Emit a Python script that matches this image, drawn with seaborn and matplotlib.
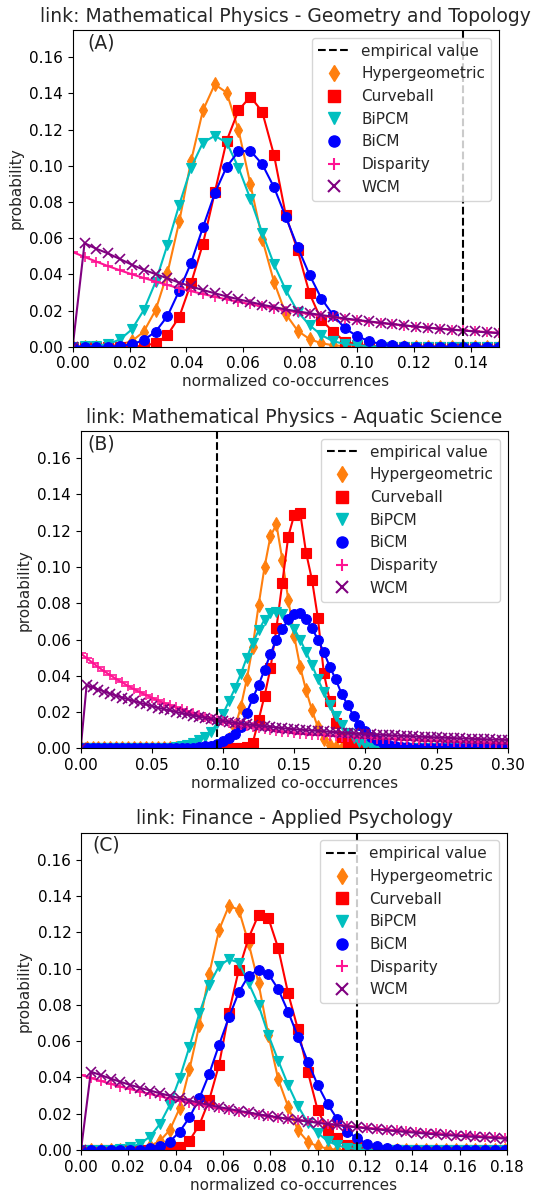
import numpy as np
import pandas as pd
import matplotlib
matplotlib.use("Agg")
import matplotlib.pyplot as plt
from matplotlib.lines import Line2D
import seaborn as sns

# Width of one bin of normalized co-occurrence
BIN = 1.0 / 240.0

# ---------------- (A) Mathematical Physics - Geometry and Topology ----------------
A_hyper = [0, 0, 0, 0.0004, 0.0012, 0.0031, 0.0083, 0.0202, 0.0407, 0.0692,
           0.1028, 0.1306, 0.1450, 0.1404, 0.1198, 0.0899, 0.0596, 0.0358, 0.0180, 0.0088,
           0.0042, 0.0019, 0.0008, 0.0003, 0, 0, 0, 0, 0, 0,
           0, 0, 0, 0, 0, 0, 0]
A_curve = [0, 0, 0, 0, 0, 0, 0.0005, 0.0019, 0.0064, 0.0165,
           0.0352, 0.0569, 0.0853, 0.1138, 0.1306, 0.1382, 0.1299, 0.1059, 0.0725, 0.0532,
           0.0294, 0.0147, 0.0083, 0.0028, 0.0012, 0.0005, 0, 0, 0, 0,
           0, 0, 0, 0, 0, 0, 0]
A_bipcm = [0, 0.0002, 0.0005, 0.0015, 0.0040, 0.0096, 0.0202, 0.0358, 0.0563, 0.0785,
           0.0990, 0.1128, 0.1165, 0.1128, 0.0990, 0.0817, 0.0630, 0.0455, 0.0312, 0.0193,
           0.0119, 0.0064, 0.0030, 0.0015, 0.0008, 0.0003, 0, 0, 0, 0,
           0, 0, 0, 0, 0, 0, 0]
A_bicm = [0, 0, 0, 0, 0.0004, 0.0013, 0.0037, 0.0083, 0.0169, 0.0310,
          0.0464, 0.0660, 0.0848, 0.0994, 0.1079, 0.1083, 0.1009, 0.0881, 0.0716, 0.0550,
          0.0397, 0.0266, 0.0174, 0.0101, 0.0059, 0.0031, 0.0015, 0.0007, 0.0003, 0,
          0, 0, 0, 0, 0, 0, 0]
A_disp = [0.0523, 0.0496, 0.0470, 0.0445, 0.0422, 0.0400, 0.0380, 0.0360, 0.0341, 0.0323,
          0.0307, 0.0291, 0.0276, 0.0261, 0.0248, 0.0235, 0.0223, 0.0211, 0.0200, 0.0190,
          0.0180, 0.0171, 0.0162, 0.0153, 0.0145, 0.0138, 0.0131, 0.0124, 0.0117, 0.0111,
          0.0106, 0.0100, 0.0095, 0.0090, 0.0085, 0.0081, 0.0077]
A_wcm = [0, 0.0572, 0.0541, 0.0515, 0.0484, 0.0453, 0.0425, 0.0401, 0.0378, 0.0354,
         0.0333, 0.0313, 0.0295, 0.0278, 0.0262, 0.0247, 0.0232, 0.0219, 0.0206, 0.0195,
         0.0185, 0.0175, 0.0165, 0.0156, 0.0148, 0.0140, 0.0132, 0.0125, 0.0118, 0.0111,
         0.0105, 0.0099, 0.0094, 0.0089, 0.0084, 0.0079, 0.0075]
A_emp = 0.1375

# ---------------- (B) Mathematical Physics - Aquatic Science ----------------
B_hyper = [0] * 24 + [0.0015, 0.0050, 0.0110, 0.0230, 0.0380, 0.0560, 0.0790, 0.1000,
                      0.1170, 0.1235, 0.1040, 0.0820, 0.0620, 0.0450, 0.0320, 0.0210,
                      0.0115, 0.0050, 0.0020, 0.0008] + [0] * 29
B_curve = [0] * 28 + [0.0008, 0.0028, 0.0156, 0.0290, 0.0441, 0.0662, 0.0914, 0.1168,
                      0.1287, 0.1300, 0.1079, 0.0929, 0.0717, 0.0414, 0.0261, 0.0138,
                      0.0060, 0.0028, 0.0012, 0.0005] + [0] * 25
B_bipcm = [0] * 16 + [0.0007, 0.0012, 0.0020, 0.0030, 0.0045, 0.0065, 0.0090, 0.0140,
                      0.0190, 0.0260, 0.0330, 0.0410, 0.0500, 0.0580, 0.0650, 0.0710,
                      0.0745, 0.0752, 0.0740, 0.0710, 0.0660, 0.0600, 0.0530, 0.0460,
                      0.0380, 0.0310, 0.0240, 0.0180, 0.0130, 0.0085, 0.0055, 0.0033,
                      0.0020, 0.0012, 0.0007, 0.0003] + [0] * 21
B_bicm = [0] * 20 + [0.0006, 0.0010, 0.0015, 0.0025, 0.0038, 0.0055, 0.0080, 0.0119,
                     0.0196, 0.0275, 0.0350, 0.0433, 0.0520, 0.0600, 0.0656, 0.0711,
                     0.0739, 0.0744, 0.0711, 0.0662, 0.0600, 0.0530, 0.0450, 0.0380,
                     0.0300, 0.0240, 0.0180, 0.0130, 0.0095, 0.0065, 0.0045, 0.0030,
                     0.0020, 0.0013, 0.0008, 0.0005, 0.0003] + [0] * 16
B_disp = [0.0524, 0.0497, 0.0472, 0.0447, 0.0424, 0.0403, 0.0382, 0.0363, 0.0344, 0.0326,
          0.0310, 0.0294, 0.0279, 0.0264, 0.0251, 0.0238, 0.0226, 0.0214, 0.0203, 0.0193,
          0.0183, 0.0173, 0.0164, 0.0156, 0.0149, 0.0142, 0.0135, 0.0129, 0.0123, 0.0117,
          0.0111, 0.0106, 0.0101, 0.0096, 0.0092, 0.0088, 0.0083, 0.0081, 0.0078, 0.0076,
          0.0074, 0.0072, 0.0069, 0.0067, 0.0065, 0.0063, 0.0061, 0.0059, 0.0058, 0.0056,
          0.0054, 0.0053, 0.0051, 0.0050, 0.0048, 0.0047, 0.0045, 0.0044, 0.0043, 0.0041,
          0.0040, 0.0039, 0.0038, 0.0037, 0.0035, 0.0034, 0.0033, 0.0032, 0.0031, 0.0030,
          0.0030, 0.0029, 0.0028]
B_wcm = [0, 0.0349, 0.0336, 0.0324, 0.0313, 0.0301, 0.0290, 0.0280, 0.0270, 0.0260,
         0.0251, 0.0242, 0.0233, 0.0224, 0.0216, 0.0209, 0.0201, 0.0194, 0.0187, 0.0180,
         0.0173, 0.0167, 0.0161, 0.0155, 0.0150, 0.0146, 0.0141, 0.0137, 0.0133, 0.0129,
         0.0125, 0.0121, 0.0118, 0.0114, 0.0111, 0.0108, 0.0105, 0.0103, 0.0100, 0.0098,
         0.0096, 0.0094, 0.0091, 0.0089, 0.0087, 0.0085, 0.0083, 0.0081, 0.0079, 0.0078,
         0.0076, 0.0074, 0.0072, 0.0071, 0.0069, 0.0068, 0.0066, 0.0064, 0.0063, 0.0062,
         0.0060, 0.0059, 0.0057, 0.0056, 0.0055, 0.0054, 0.0052, 0.0051, 0.0050, 0.0049,
         0.0048, 0.0047, 0.0046]
B_emp = 0.0958

# ---------------- (C) Finance - Applied Psychology ----------------
C_hyper = [0, 0, 0, 0, 0, 0, 0.0008, 0.0022, 0.0050, 0.0110,
           0.0230, 0.0445, 0.0690, 0.0970, 0.1214, 0.1347, 0.1325, 0.1140, 0.0920, 0.0635,
           0.0390, 0.0239, 0.0110, 0.0045, 0.0020, 0.0008] + [0] * 19
C_curve = [0, 0, 0, 0, 0, 0, 0, 0, 0, 0.0005,
           0.0015, 0.0052, 0.0138, 0.0276, 0.0470, 0.0758, 0.0993, 0.1170, 0.1297, 0.1279,
           0.1113, 0.0865, 0.0666, 0.0432, 0.0220, 0.0110, 0.0064, 0.0030, 0.0015, 0.0007] + [0] * 15
C_bipcm = [0, 0, 0, 0, 0.0007, 0.0015, 0.0035, 0.0074, 0.0143, 0.0248,
           0.0396, 0.0570, 0.0754, 0.0910, 0.1015, 0.1052, 0.1034, 0.0920, 0.0800, 0.0635,
           0.0493, 0.0359, 0.0243, 0.0150, 0.0094, 0.0050, 0.0025, 0.0012, 0.0005] + [0] * 16
C_bicm = [0, 0, 0, 0, 0, 0, 0, 0.0010, 0.0020, 0.0046,
          0.0101, 0.0180, 0.0285, 0.0420, 0.0580, 0.0732, 0.0870, 0.0962, 0.0993, 0.0971,
          0.0887, 0.0763, 0.0625, 0.0487, 0.0359, 0.0254, 0.0169, 0.0101, 0.0064, 0.0035,
          0.0020, 0.0010, 0.0005] + [0] * 12
C_disp = [0.0414, 0.0397, 0.0381, 0.0365, 0.0350, 0.0336, 0.0322, 0.0309, 0.0296, 0.0284,
          0.0272, 0.0261, 0.0250, 0.0240, 0.0230, 0.0221, 0.0212, 0.0203, 0.0195, 0.0187,
          0.0179, 0.0172, 0.0165, 0.0158, 0.0152, 0.0145, 0.0139, 0.0134, 0.0128, 0.0123,
          0.0118, 0.0113, 0.0108, 0.0104, 0.0100, 0.0096, 0.0092, 0.0088, 0.0084, 0.0081,
          0.0078, 0.0074, 0.0071, 0.0068, 0.0065]
C_wcm = [0, 0.0432, 0.0413, 0.0394, 0.0376, 0.0359, 0.0343, 0.0328, 0.0313, 0.0299,
         0.0286, 0.0273, 0.0260, 0.0249, 0.0237, 0.0227, 0.0216, 0.0207, 0.0197, 0.0188,
         0.0180, 0.0172, 0.0164, 0.0157, 0.0150, 0.0143, 0.0137, 0.0130, 0.0125, 0.0119,
         0.0114, 0.0108, 0.0104, 0.0099, 0.0095, 0.0090, 0.0086, 0.0082, 0.0079, 0.0075,
         0.0072, 0.0069, 0.0066, 0.0063, 0.0060]
C_emp = 0.1167

MODELS = ["Hypergeometric", "Curveball", "BiPCM", "BiCM", "Disparity", "WCM"]
STYLE = {
    "Hypergeometric": dict(color="#ff7f0e", marker="d"),
    "Curveball": dict(color="red", marker="s"),
    "BiPCM": dict(color="c", marker="v"),
    "BiCM": dict(color="blue", marker="o"),
    "Disparity": dict(color="deeppink", marker="+"),
    "WCM": dict(color="purple", marker="x"),
}

panels = [
    dict(tag="(A)", title="link: Mathematical Physics - Geometry and Topology",
         series=[A_hyper, A_curve, A_bipcm, A_bicm, A_disp, A_wcm], emp=A_emp,
         xmax=0.15, xticks=np.arange(0, 0.151, 0.02),
         rect=[72.7, 30.0, 499.0, 346.7]),
    dict(tag="(B)", title="link: Mathematical Physics - Aquatic Science",
         series=[B_hyper, B_curve, B_bipcm, B_bicm, B_disp, B_wcm], emp=B_emp,
         xmax=0.30, xticks=np.arange(0, 0.301, 0.05),
         rect=[80.7, 431.0, 507.7, 748.3]),
    dict(tag="(C)", title="link: Finance - Applied Psychology",
         series=[C_hyper, C_curve, C_bipcm, C_bicm, C_disp, C_wcm], emp=C_emp,
         xmax=0.18, xticks=np.arange(0, 0.181, 0.02),
         rect=[81.0, 832.7, 507.0, 1150.0]),
]

sns.set_style("ticks")
plt.rcParams["font.family"] = ["DejaVu Sans"]
plt.rcParams["axes.edgecolor"] = "black"
plt.rcParams["xtick.color"] = "black"
plt.rcParams["ytick.color"] = "black"

W, H = 534, 1197
fig = plt.figure(figsize=(W / 100, H / 100), dpi=100)

for p in panels:
    l, t, r, b = p["rect"]
    ax = fig.add_axes([l / W, 1 - b / H, (r - l) / W, (b - t) / H])
    for name, vals in zip(MODELS, p["series"]):
        st = STYLE[name]
        df = pd.DataFrame({"x": np.arange(len(vals)) * BIN, "y": vals})
        thin = st["marker"] in ("+", "x")
        sns.lineplot(data=df, x="x", y="y", ax=ax, color=st["color"],
                     marker=st["marker"], markersize=7,
                     markeredgecolor=st["color"],
                     markeredgewidth=1.2 if thin else 0.8,
                     linewidth=1.5, estimator=None, sort=False)
    ax.axvline(p["emp"], color="black", linestyle="--", linewidth=1.5)
    ax.set_xlim(0, p["xmax"])
    ax.set_ylim(0, 0.175)
    ax.set_xticks(p["xticks"])
    ax.set_yticks(np.arange(0, 0.161, 0.02))
    ax.xaxis.set_major_formatter(matplotlib.ticker.FormatStrFormatter("%.2f"))
    ax.yaxis.set_major_formatter(matplotlib.ticker.FormatStrFormatter("%.2f"))
    ax.tick_params(labelsize=11)
    ax.set_xlabel("normalized co-occurrences", fontsize=11, labelpad=2)
    ax.set_ylabel("probability", fontsize=11)
    ax.set_title(p["title"], fontsize=13.5)
    ax.text(0.005, 0.165, p["tag"], fontsize=13.5)

    handles = [Line2D([], [], color="black", linestyle="--", linewidth=1.5)]
    for name in MODELS:
        st = STYLE[name]
        handles.append(Line2D([], [], linestyle="none", marker=st["marker"],
                              color=st["color"], markersize=8,
                              markeredgewidth=1.5 if st["marker"] in ("+", "x") else 1.0))
    ax.legend(handles, ["empirical value"] + MODELS, loc="upper right",
              fontsize=11, frameon=True)

fig.savefig("out.png", dpi=100)
